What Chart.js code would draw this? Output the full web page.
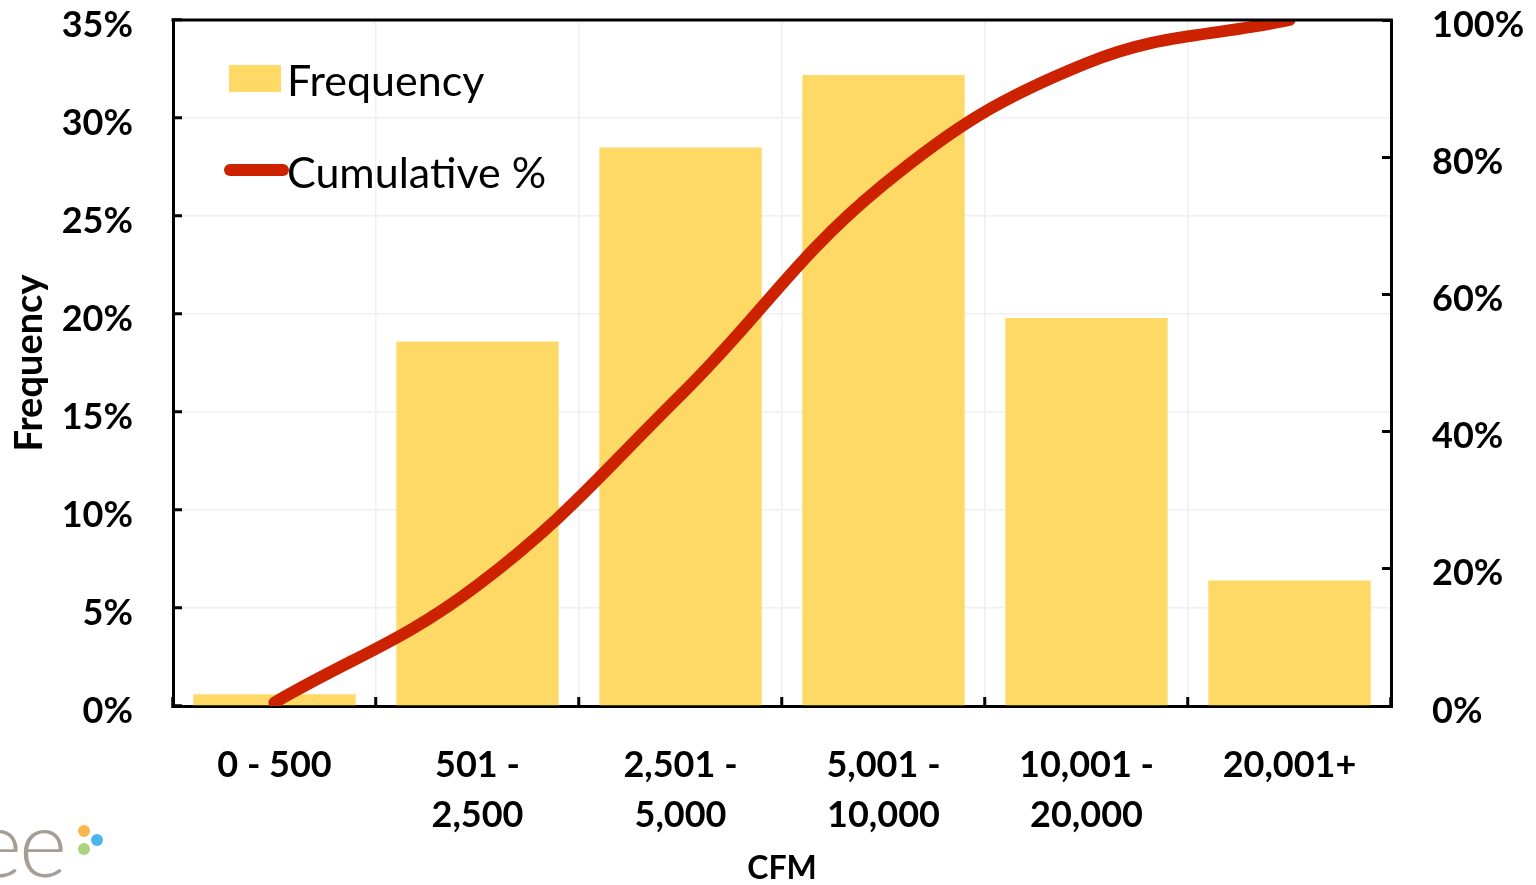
<!DOCTYPE html>
<html>
<head>
<meta charset="utf-8">
<script src="https://cdn.jsdelivr.net/npm/chart.js@4.4.1/dist/chart.umd.min.js"></script>
<style>
	html, body { margin: 0; padding: 0; background: #fff; overflow: hidden; }
	#wrap { position: relative; width: 1536px; height: 885px; }
	#logo { position: absolute; left: -26px; top: 796px; font-family: Lato, sans-serif; font-weight: 300;
		font-size: 92px; color: #a49e95; letter-spacing: -3px; line-height: 1; }
	.dot { position: absolute; width: 12px; height: 12px; border-radius: 50%; }
</style>
</head>
<body>
<div id="wrap">
	<canvas id="chart" width="1536" height="885"></canvas>
	<div id="logo">ee</div>
	<div class="dot" style="left:78px;top:825px;background:#fbb74e"></div>
	<div class="dot" style="left:91px;top:834px;background:#4db5ec"></div>
	<div class="dot" style="left:78px;top:843px;background:#acd47e"></div>
</div>
<script>
(function () {
	'use strict';

	var categories = [['0 - 500'], ['501 -', '2,500'], ['2,501 -', '5,000'], ['5,001 -', '10,000'], ['10,001 -', '20,000'], ['20,001+']];
	var frequency = [0.6, 18.6, 28.5, 32.2, 19.8, 6.4];
	var cumulative = [0.5, 17.6, 45.3, 76.0, 93.7, 100];
	var freqTicks = [0, 5, 10, 15, 20, 25, 30, 35];
	var cumTicks = [0, 20, 40, 60, 80, 100];

	var barColor = '#ffd966';
	var lineColor = '#cc2200';
	var labelFont = { family: 'Lato', weight: 'bold', size: 36 };

	// legend inside the plot area, top-left, plus the top edge of the box
	var insideLegend = {
		id: 'insideLegend',
		afterDatasetsDraw: function (chart) {
			var ctx = chart.ctx;
			var a = chart.chartArea;
			var bars = chart.data.datasets[1];
			var line = chart.data.datasets[0];
			ctx.save();
			ctx.strokeStyle = '#000';
			ctx.lineWidth = 3;
			ctx.beginPath();
			ctx.moveTo(a.left - 1.5, a.top);
			ctx.lineTo(a.right + 1.5, a.top);
			ctx.stroke();

			ctx.font = '43px Lato';
			ctx.textBaseline = 'middle';
			ctx.fillStyle = bars.backgroundColor;
			ctx.fillRect(a.left + 56, a.top + 45, 52, 27);
			ctx.fillStyle = '#000';
			ctx.fillText(bars.label, a.left + 114, a.top + 62);
			ctx.strokeStyle = line.borderColor;
			ctx.lineWidth = 12;
			ctx.lineCap = 'round';
			ctx.beginPath();
			ctx.moveTo(a.left + 57, a.top + 150);
			ctx.lineTo(a.left + 110, a.top + 150);
			ctx.stroke();
			ctx.fillText(line.label, a.left + 114, a.top + 154);
			ctx.restore();
		}
	};

	new Chart(document.getElementById('chart'), {
		type: 'bar',
		data: {
			labels: categories,
			datasets: [{
				type: 'line',
				label: 'Cumulative %',
				data: cumulative,
				yAxisID: 'y2',
				borderColor: lineColor,
				borderWidth: 12,
				borderCapStyle: 'round',
				tension: 0.4,
				pointRadius: 0,
				fill: false,
				order: 0
			}, {
				label: 'Frequency',
				data: frequency,
				yAxisID: 'y',
				backgroundColor: barColor,
				barPercentage: 0.8,
				categoryPercentage: 1,
				order: 1
			}]
		},
		options: {
			responsive: false,
			animation: false,
			devicePixelRatio: 1,
			layout: { padding: { top: 0, right: 0, left: 0, bottom: 0 } },
			plugins: { legend: { display: false }, tooltip: { enabled: false } },
			scales: {
				x: {
					position: 'bottom',
					grid: { color: '#f0f0f0', lineWidth: 1.5, tickColor: '#000', tickLength: -9, tickWidth: 3 },
					border: { color: '#000', width: 3 },
					ticks: { color: '#000', font: Object.assign({ lineHeight: 1.39 }, labelFont), padding: 43, maxRotation: 0, autoSkip: false },
					title: { display: true, text: 'CFM', color: '#000', font: { family: 'Lato', weight: 'bold', size: 32, lineHeight: 1 }, padding: 0 },
					afterFit: function (s) { s.height = 179; }
				},
				y: {
					position: 'left',
					min: 0,
					max: 35,
					afterBuildTicks: function (s) { s.ticks = freqTicks.map(function (v) { return { value: v }; }); },
					grid: { color: '#f0f0f0', lineWidth: 1.5, tickColor: '#000', tickLength: -9, tickWidth: 3 },
					border: { color: '#000', width: 3 },
					ticks: { color: '#000', font: labelFont, padding: 49, labelOffset: 5, callback: function (v) { return v + '%'; } },
					title: { display: true, text: 'Frequency', color: '#000', font: { family: 'Lato', weight: 'bold', size: 38 }, padding: { top: 7, bottom: 0 } },
					afterFit: function (s) { s.width = 173; s.paddingTop = 20; }
				},
				y2: {
					position: 'right',
					min: 0,
					max: 100,
					afterBuildTicks: function (s) { s.ticks = cumTicks.map(function (v) { return { value: v }; }); },
					grid: { drawOnChartArea: false, tickColor: '#000', tickLength: -9, tickWidth: 3 },
					border: { color: '#000', width: 3 },
					ticks: { color: '#000', font: labelFont, padding: 50, labelOffset: 5, callback: function (v) { return v + '%'; } },
					afterFit: function (s) { s.width = 145; s.paddingTop = 20; }
				}
			}
		},
		plugins: [insideLegend]
	});
})();
</script>
</body>
</html>
